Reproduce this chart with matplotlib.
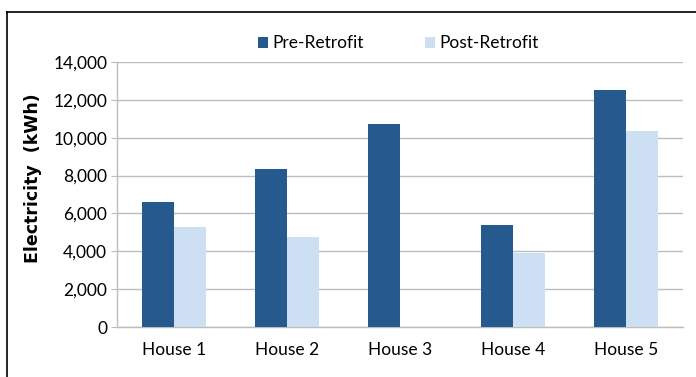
import numpy as np
import matplotlib.pyplot as plt
from matplotlib.lines import Line2D

houses = ["House 1", "House 2", "House 3", "House 4", "House 5"]
pre_retrofit = [6600, 8350, 10700, 5400, 12500]
post_retrofit = [5300, 4750, 0, 3900, 10350]
y_ticks = [0, 2000, 4000, 6000, 8000, 10000, 12000, 14000]

plt.rcParams['font.family'] = ['Lato', 'DejaVu Sans']

fig = plt.figure(figsize=(6.96, 3.77), dpi=100)
ax = fig.add_axes([117 / 696, 1 - 327 / 377, 566 / 696, 265 / 377])

x = np.arange(len(houses))
width = 0.283
ax.bar(x - width / 2, pre_retrofit, width, color='#265a8e', label='Pre-Retrofit', zorder=3)
ax.bar(x + width / 2, post_retrofit, width, color='#cddff2', label='Post-Retrofit', zorder=3)

ax.set_xlim(-0.5, len(houses) - 0.5)
ax.set_ylim(0, 14000)
ax.set_yticks(y_ticks)
ax.set_yticklabels([f"{v:,}" for v in y_ticks])
ax.set_xticks(x)
ax.set_xticklabels(houses)

ax.grid(axis='y', color='#bdbdbd', linewidth=1.0, zorder=0)
for side in ['top', 'right']:
    ax.spines[side].set_visible(False)
ax.spines['left'].set_color('#bdbdbd')
ax.spines['bottom'].set_color('#bdbdbd')
ax.spines['left'].set_linewidth(1.0)
ax.spines['bottom'].set_linewidth(1.0)
ax.tick_params(axis='y', length=4, color='#bdbdbd', labelsize=12.5, pad=3)
ax.tick_params(axis='x', length=0, labelsize=12.5, pad=11)

ax.set_ylabel("Electricity  (kWh)", fontsize=12.5, fontweight='bold',
              family=['DejaVu Sans'])
ax.yaxis.set_label_coords(-0.133, 0.56)

ax.legend(loc='upper center', bbox_to_anchor=(0.497, 1.16), ncol=2, frameon=False,
          fontsize=12.5, handlelength=0.6, handleheight=0.6, handletextpad=0.25,
          columnspacing=3.5)

# outer chart border (top and left edges visible)
fig.add_artist(Line2D([7 / 696, 1], [1 - 12 / 377, 1 - 12 / 377], color='black', linewidth=1.2,
                      transform=fig.transFigure))
fig.add_artist(Line2D([7 / 696, 7 / 696], [0, 1 - 12 / 377], color='black', linewidth=1.2,
                      transform=fig.transFigure))

fig.savefig("out.png", dpi=100)
